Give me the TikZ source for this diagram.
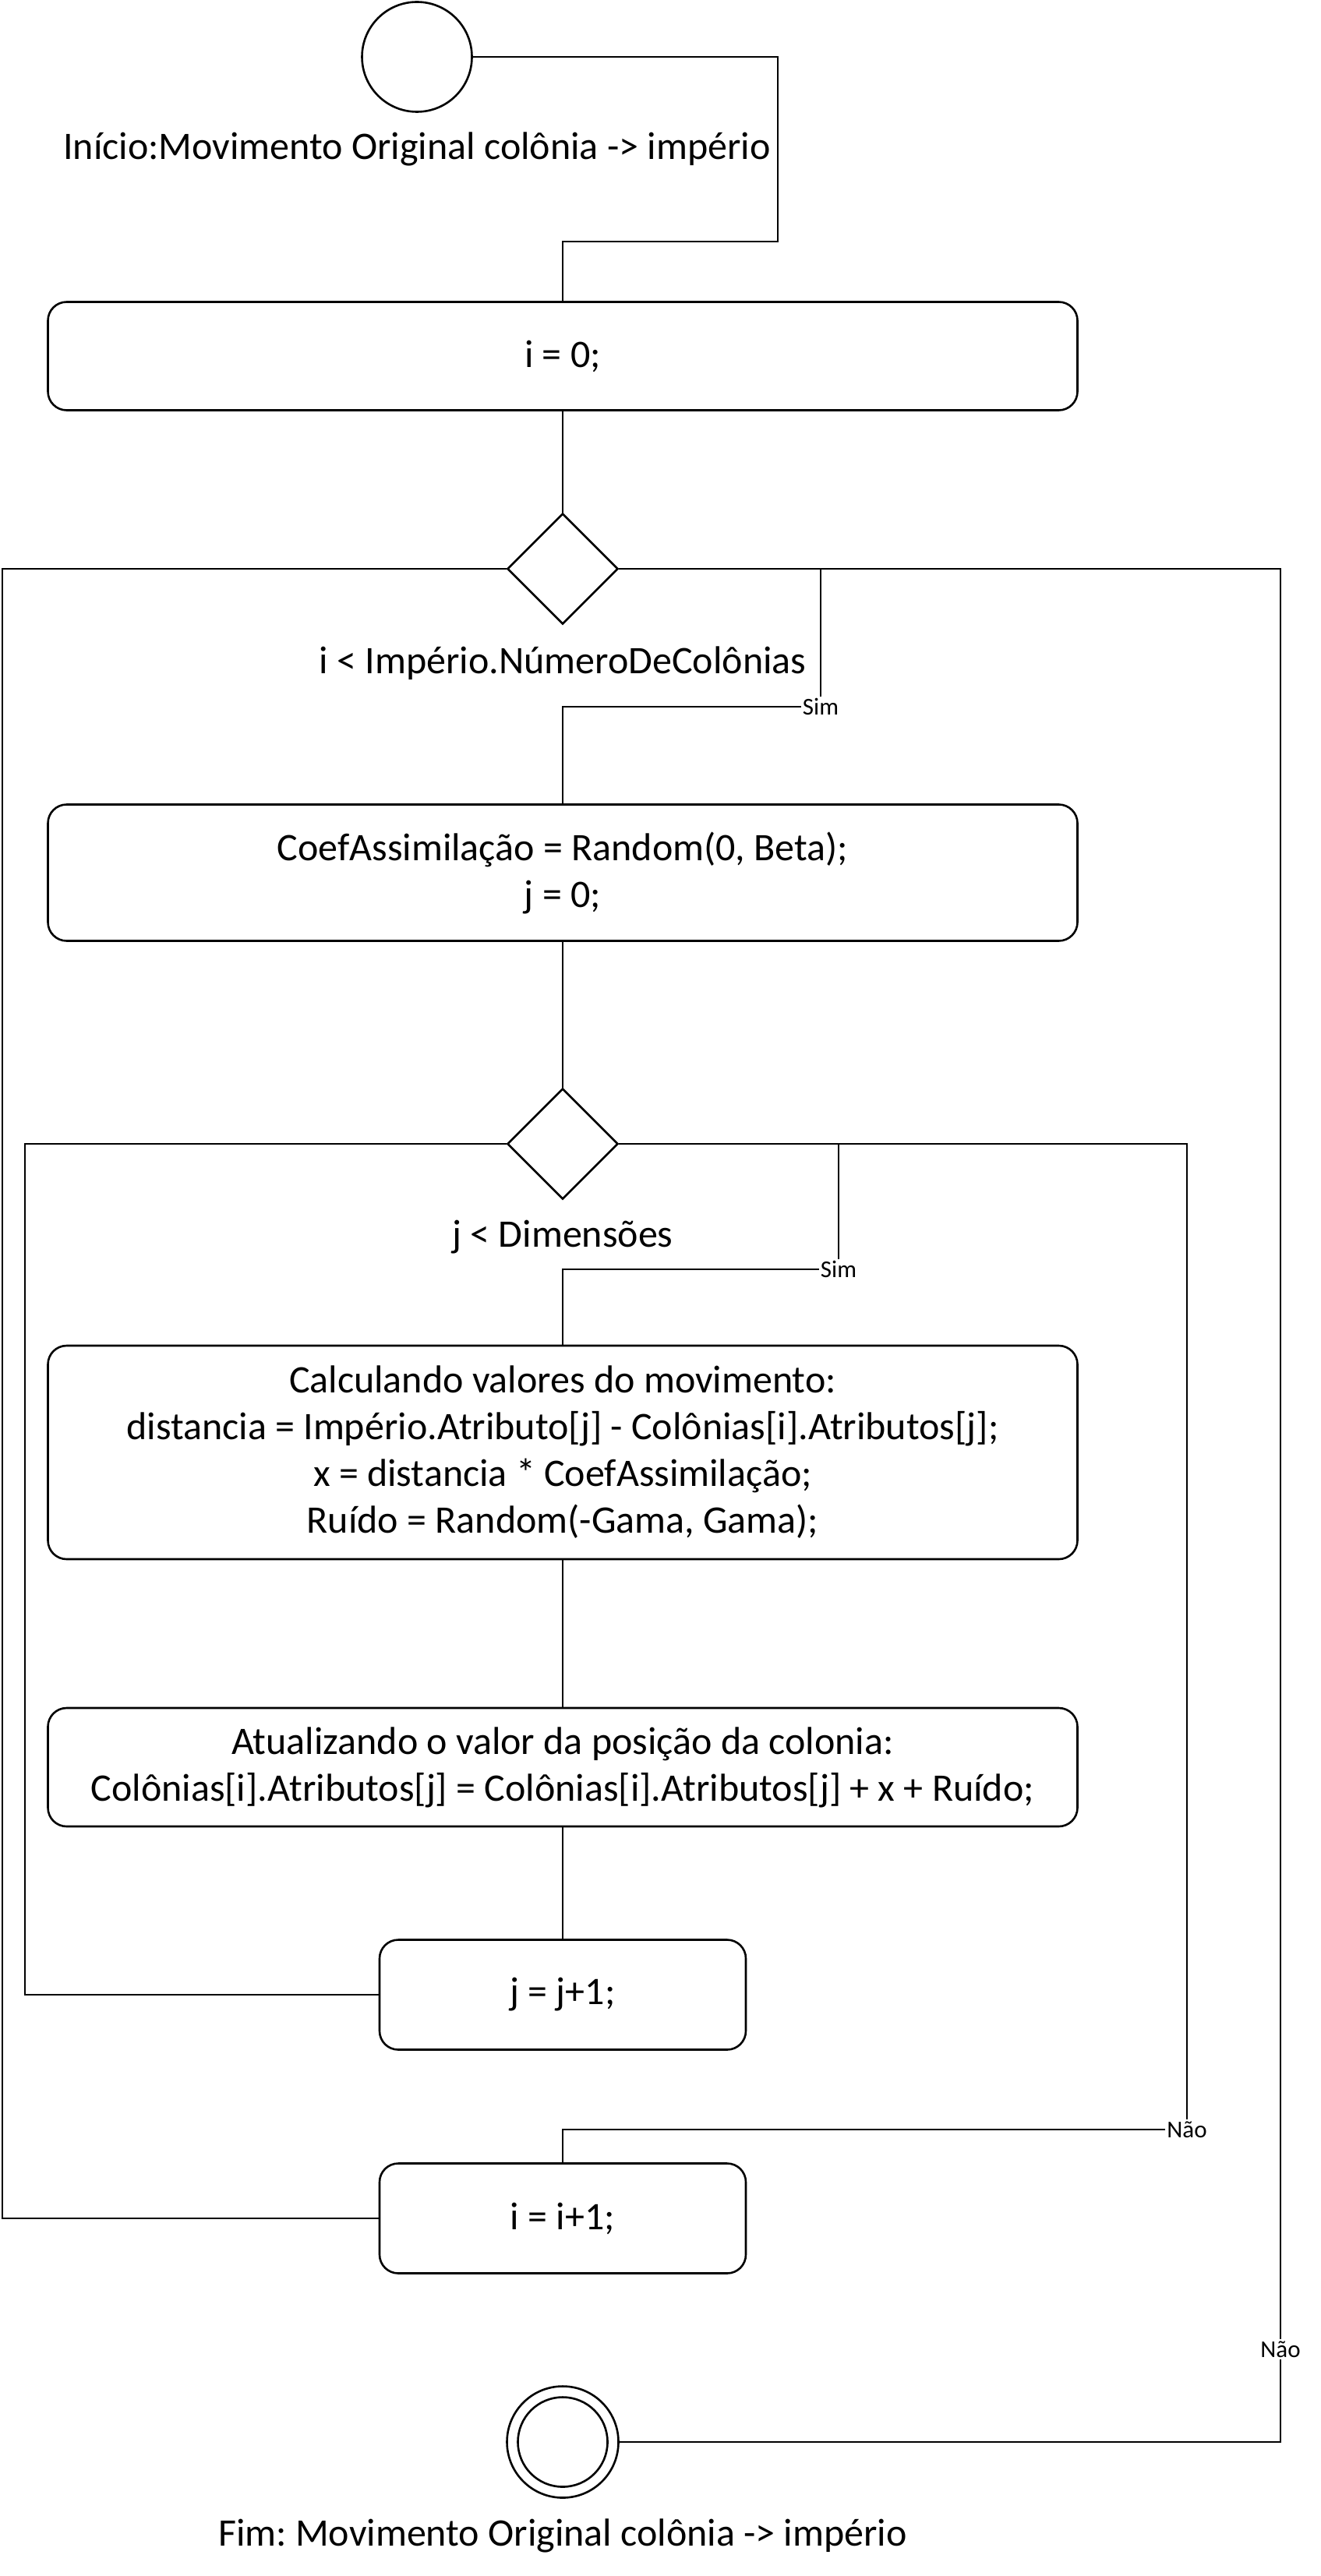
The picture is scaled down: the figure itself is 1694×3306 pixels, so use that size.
\documentclass[tikz,border=0pt]{standalone}
\usepackage{fontspec}
\setmainfont{Carlito}
\usetikzlibrary{shapes.geometric}
\frenchspacing
\newcommand{\textoatividade}{\fontsize{25}{30}\selectfont}
\newcommand{\textoguarda}{\fontsize{15.5}{18}\selectfont}
\tikzset{
  fluxo/.style={line width=1.3pt},
  acao/.style={draw, fluxo, rounded corners=12pt, align=center, inner sep=0pt, font=\textoatividade},
  decisao/.style={draw, fluxo, diamond, minimum width=71pt, minimum height=71pt, inner sep=0pt},
  estado/.style={draw, fluxo, circle, inner sep=0pt},
  rotulo/.style={font=\textoatividade, anchor=base},
  guarda/.style={font=\textoguarda, fill=white, inner sep=1pt}
}

\begin{document}
\begin{tikzpicture}[x=0.5pt, y=-0.5pt]
    \useasboundingbox (0,0) rectangle (1694,3306);
    % estados inicial e final
    \node[estado, minimum size=70.5pt] (inicio) at (535,73) {};
    \node[rotulo] (inicio lbl) at (535,205) {Início:Movimento Original colônia -> império};
    \node[estado, minimum size=71.5pt] (fim) at (722,3134) {};
    \draw[fluxo] (fim.center) circle (28.75pt);
    \node[rotulo] (fim lbl) at (722,3267) {Fim: Movimento Original colônia -> império};

    % atividades
    \node[acao, minimum width=660.5pt, minimum height=69.5pt] (init i) at (722,457) {i = 0;};
    \node[acao, minimum width=660.5pt, minimum height=87.5pt] (coef) at (722,1120)
         {CoefAssimilação = Random(0, Beta);\\ j = 0;};
    \node[acao, minimum width=660.5pt, minimum height=137pt] (calc) at (722,1864)
         {Calculando valores do movimento:\\
          distancia = Império.Atributo[j] - Colônias[i].Atributos[j];\\
          x = distancia * CoefAssimilação;\\
          Ruído = Random(-Gama, Gama);};
    \node[acao, minimum width=660.5pt, minimum height=76pt] (atual) at (722,2268)
         {Atualizando o valor da posição da colonia:\\
          Colônias[i].Atributos[j] = Colônias[i].Atributos[j] + x + Ruído;};
    \node[acao, minimum width=235pt, minimum height=70.5pt] (inc j) at (722,2560) {j = j+1;};
    \node[acao, minimum width=235pt, minimum height=70.5pt] (inc i) at (722,2847) {i = i+1;};

    % decisoes
    \node[decisao] (dec i) at (722,730) {};
    \node[rotulo] (dec i lbl) at (722,864) {i < Império.NúmeroDeColônias};
    \node[decisao] (dec j) at (722,1468) {};
    \node[rotulo] (dec j lbl) at (722,1600) {j < Dimensões};

    % guardas
    \node[guarda] (sim i) at (1053,907) {Sim};
    \node[guarda] (sim j) at (1076,1629) {Sim};
    \node[guarda] (nao j) at (1523,2733) {Não};
    \node[guarda] (nao i) at (1643,3015) {Não};

    % fluxos
    \draw[fluxo] (inicio.east) -| (998,310) -| (init i.north);
    \draw[fluxo] (init i.south) -- (dec i.north);
    \draw[fluxo] (dec i.east) -| (sim i.north);
    \draw[fluxo] (sim i.west) -| (coef.north);
    \draw[fluxo] (dec i.east) -| (nao i.north);
    \draw[fluxo] (nao i.south) |- (fim.east);
    \draw[fluxo] (coef.south) -- (dec j.north);
    \draw[fluxo] (dec j.east) -| (sim j.north);
    \draw[fluxo] (sim j.west) -| (calc.north);
    \draw[fluxo] (dec j.east) -| (nao j.north);
    \draw[fluxo] (nao j.west) -| (inc i.north);
    \draw[fluxo] (calc.south) -- (atual.north);
    \draw[fluxo] (atual.south) -- (inc j.north);
    \draw[fluxo] (inc j.west) -| (32,1468) -- (dec j.west);
    \draw[fluxo] (inc i.west) -| (3,730) -- (dec i.west);
\end{tikzpicture}
\end{document}
